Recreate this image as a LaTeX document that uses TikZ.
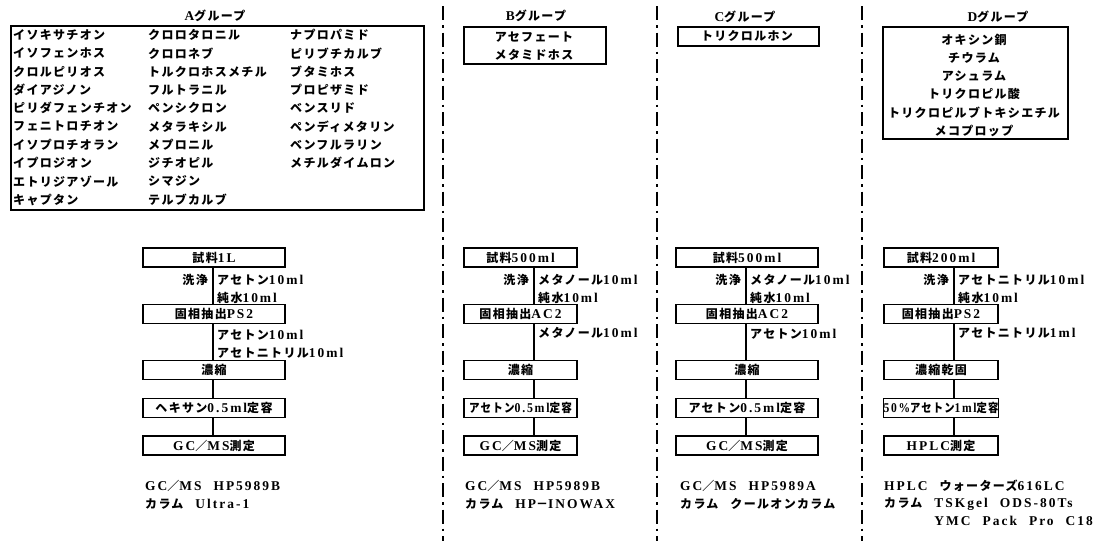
\documentclass[tikz,border=0pt]{standalone}
\usepackage{fontspec}
\setmainfont{Liberation Serif}[LetterSpace=15,Scale=1.12]
\newfontfamily\jpf{Noto Sans CJK JP}[LetterSpace=11]
\newcommand\J[1]{{\jpf\bfseries #1}}
\newcommand\gap{\hspace{12pt}}
\begin{document}
\begin{tikzpicture}[x=1pt,y=-1pt,
  every node/.style={font=\fontsize{12}{14}\selectfont\bfseries, inner sep=0pt},
  listbox/.style={draw, line width=1.6pt, anchor=north west},
  flowbox/.style={draw, line width=1.6pt, minimum height=19pt},
  item/.style={anchor=west},
  lbl/.style={anchor=west},
  wash/.style={anchor=east},
  conn/.style={line width=1.4pt},
  divider/.style={line width=2.2pt, dash pattern=on 14pt off 5pt on 2.5pt off 5pt}]
\fill[white] (0,0) rectangle (1105,541);
\useasboundingbox (0,0) rectangle (1105,541);

% dividers
\draw[divider] (443,6) -- (443,541);
\draw[divider] (657,6) -- (657,541);
\draw[divider] (862,6) -- (862,541);

% titles
\node (tA) at (215,16) {A\J{グループ}};
\node (tB) at (536,16) {B\J{グループ}};
\node (tC) at (745,17) {C\J{グループ}};
\node (tD) at (998,17) {D\J{グループ}};

% list boxes
\node[listbox, minimum width=413pt, minimum height=184pt] (boxA) at (10,25) {};
\node[listbox, minimum width=142pt, minimum height=37pt] (boxB) at (463,26) {};
\node[listbox, minimum width=141pt, minimum height=19pt] (boxC) at (677,26) {};
\node[listbox, minimum width=185pt, minimum height=112pt] (boxD) at (882,26) {};

% A items
\node[item] (a11) at (13,35) {\J{イソキサチオン}};
\node[item] (a12) at (13,53.3) {\J{イソフェンホス}};
\node[item] (a13) at (13,71.6) {\J{クロルピリオス}};
\node[item] (a14) at (13,89.9) {\J{ダイアジノン}};
\node[item] (a15) at (13,108.2) {\J{ピリダフェンチオン}};
\node[item] (a16) at (13,126.5) {\J{フェニトロチオン}};
\node[item] (a17) at (13,144.8) {\J{イソプロチオラン}};
\node[item] (a18) at (13,163.1) {\J{イプロジオン}};
\node[item] (a19) at (13,181.4) {\J{エトリジアゾール}};
\node[item] (a110) at (13,199.7) {\J{キャプタン}};
\node[item] (a21) at (148,35) {\J{クロロタロニル}};
\node[item] (a22) at (148,53.3) {\J{クロロネブ}};
\node[item] (a23) at (148,71.6) {\J{トルクロホスメチル}};
\node[item] (a24) at (148,89.9) {\J{フルトラニル}};
\node[item] (a25) at (148,108.2) {\J{ペンシクロン}};
\node[item] (a26) at (148,126.5) {\J{メタラキシル}};
\node[item] (a27) at (148,144.8) {\J{メプロニル}};
\node[item] (a28) at (148,163.1) {\J{ジチオピル}};
\node[item] (a29) at (148,181.4) {\J{シマジン}};
\node[item] (a210) at (148,199.7) {\J{テルブカルブ}};
\node[item] (a31) at (290,35) {\J{ナプロパミド}};
\node[item] (a32) at (290,53.3) {\J{ピリブチカルブ}};
\node[item] (a33) at (290,71.6) {\J{ブタミホス}};
\node[item] (a34) at (290,89.9) {\J{プロピザミド}};
\node[item] (a35) at (290,108.2) {\J{ベンスリド}};
\node[item] (a36) at (290,126.5) {\J{ペンディメタリン}};
\node[item] (a37) at (290,144.8) {\J{ベンフルラリン}};
\node[item] (a38) at (290,163.1) {\J{メチルダイムロン}};

% B, C, D items
\node (b1) at (534,37) {\J{アセフェート}};
\node (b2) at (534,55) {\J{メタミドホス}};
\node (c1) at (747,36) {\J{トリクロルホン}};
\node (d1) at (974,39.5) {\J{オキシン銅}};
\node (d2) at (974,57.8) {\J{チウラム}};
\node (d3) at (974,76.1) {\J{アシュラム}};
\node (d4) at (974,94.4) {\J{トリクロピル酸}};
\node (d5) at (974,112.7) {\J{トリクロピルブトキシエチル}};
\node (d6) at (974,131) {\J{メコプロップ}};

% line positions
\coordinate (lA) at (213,0);
\coordinate (lB) at (534,0);
\coordinate (lC) at (746,0);
\coordinate (lD) at (954,0);

% A flow
\begin{scope}[flowbox/.append style={minimum width=142pt}]
\node[flowbox] (A1) at (214,257.5) {\J{試料}1L};
\node[flowbox] (A2) at (214,314) {\J{固相抽出}PS2};
\node[flowbox] (A3) at (214,370) {\J{濃縮}};
\node[flowbox] (A4) at (214,408) {\J{ヘキサン}0.5ml\J{定容}};
\node[flowbox] (A5) at (214,445.5) {GC\J{／}MS\J{測定}};
\end{scope}
\node[wash] (Aw) at (208,280) {\J{洗浄}};
\node[lbl] (Al1) at (217,280) {\J{アセトン}10ml};
\node[lbl] (Al2) at (217,298) {\J{純水}10ml};
\node[lbl] (Al3) at (217,335) {\J{アセトン}10ml};
\node[lbl] (Al4) at (217,353) {\J{アセトニトリル}10ml};

% B flow
\begin{scope}[flowbox/.append style={minimum width=113pt}]
\node[flowbox] (B1) at (520.5,257.5) {\J{試料}500ml};
\node[flowbox] (B2) at (520.5,314) {\J{固相抽出}AC2};
\node[flowbox] (B3) at (520.5,370) {\J{濃縮}};
\node[flowbox] (B4) at (520.5,408) {\scalebox{0.88}[1]{\J{アセトン}0.5ml\J{定容}}};
\node[flowbox] (B5) at (520.5,445.5) {GC\J{／}MS\J{測定}};
\end{scope}
\node[wash] (Bw) at (529,280) {\J{洗浄}};
\node[lbl] (Bl1) at (538,280) {\J{メタノール}10ml};
\node[lbl] (Bl2) at (538,298) {\J{純水}10ml};
\node[lbl] (Bl3) at (538,333) {\J{メタノール}10ml};

% C flow
\begin{scope}[flowbox/.append style={minimum width=142pt}]
\node[flowbox] (C1) at (747,257.5) {\J{試料}500ml};
\node[flowbox] (C2) at (747,314) {\J{固相抽出}AC2};
\node[flowbox] (C3) at (747,370) {\J{濃縮}};
\node[flowbox] (C4) at (747,408) {\J{アセトン}0.5ml\J{定容}};
\node[flowbox] (C5) at (747,445.5) {GC\J{／}MS\J{測定}};
\end{scope}
\node[wash] (Cw) at (741,280) {\J{洗浄}};
\node[lbl] (Cl1) at (750,280) {\J{メタノール}10ml};
\node[lbl] (Cl2) at (750,298) {\J{純水}10ml};
\node[lbl] (Cl3) at (750,334) {\J{アセトン}10ml};

% D flow
\begin{scope}[flowbox/.append style={minimum width=114pt}]
\node[flowbox] (D1) at (941,257.5) {\J{試料}200ml};
\node[flowbox] (D2) at (941,314) {\J{固相抽出}PS2};
\node[flowbox] (D3) at (941,370) {\J{濃縮乾固}};
\node[flowbox] (D4) at (941,408) {\scalebox{0.86}[1]{50\%\J{アセトン}1ml\J{定容}}};
\node[flowbox] (D5) at (941,445.5) {HPLC\J{測定}};
\end{scope}
\node[wash] (Dw) at (949,280) {\J{洗浄}};
\node[lbl] (Dl1) at (958,280) {\J{アセトニトリル}10ml};
\node[lbl] (Dl2) at (958,298) {\J{純水}10ml};
\node[lbl] (Dl3) at (958,333) {\J{アセトニトリル}1ml};

% connectors
\foreach \c/\l in {A/lA,B/lB,C/lC,D/lD}{
  \draw[conn] (\c1.south -| \l) -- (\c2.north -| \l);
  \draw[conn] (\c2.south -| \l) -- (\c3.north -| \l);
  \draw[conn] (\c3.south -| \l) -- (\c4.north -| \l);
  \draw[conn] (\c4.south -| \l) -- (\c5.north -| \l);
}

% instrument notes
\node[item] (nA1) at (145,486) {GC\J{／}MS\gap HP5989B};
\node[item] (nA2) at (145,504) {\J{カラム}\gap Ultra-1};
\node[item] (nB1) at (465,486) {GC\J{／}MS\gap HP5989B};
\node[item] (nB2) at (465,504) {\J{カラム}\gap HP\J{－}INOWAX};
\node[item] (nC1) at (680,486) {GC\J{／}MS\gap HP5989A};
\node[item] (nC2) at (680,504) {\J{カラム}\gap\J{クールオンカラム}};
\node[item] (nD1) at (884,486) {HPLC\gap\J{ウォーターズ}616LC};
\node[item] (nD2) at (884,504) {\J{カラム}\gap TSKgel\gap ODS-80Ts};
\node[item] (nD3) at (884,521) {\phantom{\J{カラム}\gap}YMC\gap Pack\gap Pro\gap C18};
\end{tikzpicture}
\end{document}
